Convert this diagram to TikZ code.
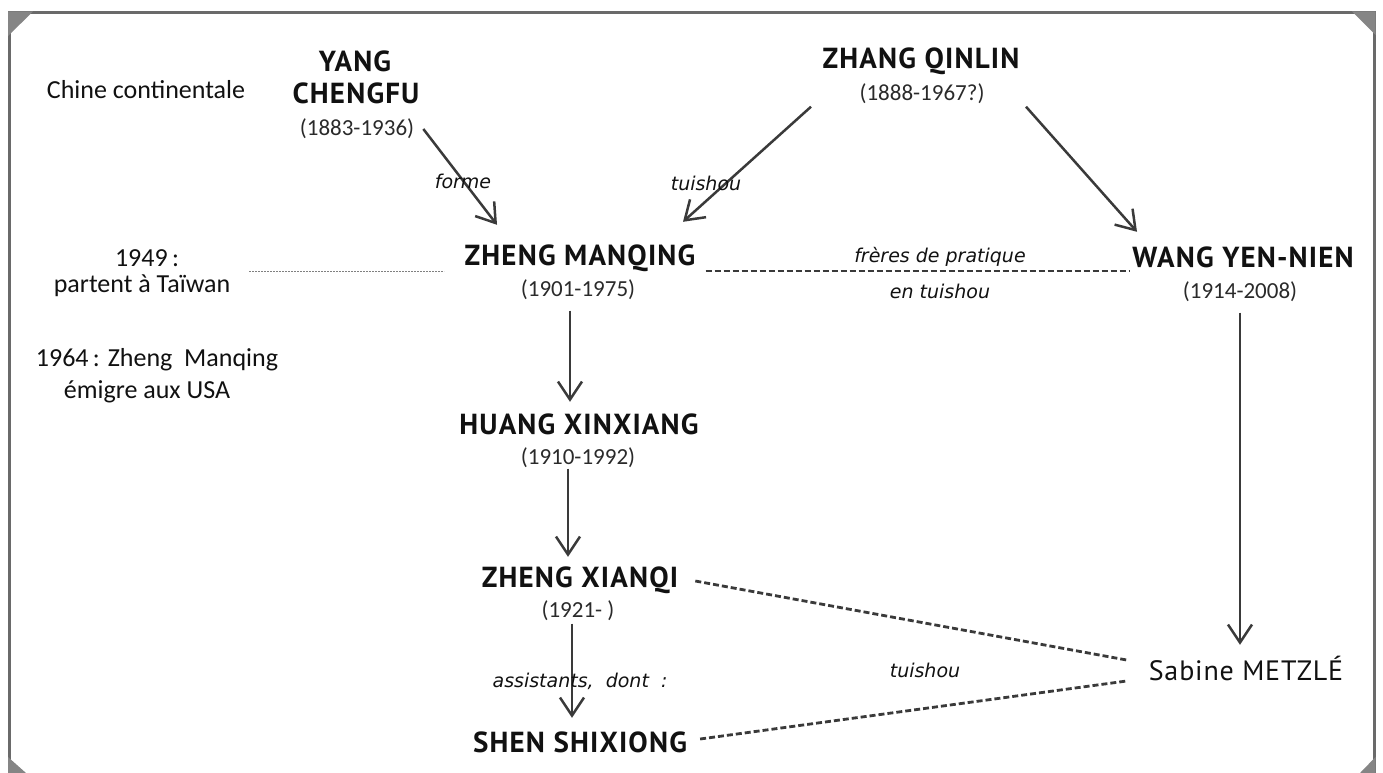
\documentclass[tikz,border=0pt]{standalone}
\usepackage{fontspec}
\setmainfont{Carlito}
\newfontfamily\namefont{PT Sans}[LetterSpace=4]
\newfontfamily\labfont{DejaVu Sans}
\newfontfamily\sabfont{PT Sans}[LetterSpace=3]
\usetikzlibrary{arrows.meta,calc}
\definecolor{txt}{HTML}{111111}
\definecolor{dtc}{HTML}{2A2A2A}
\definecolor{lc}{HTML}{3A3A3A}
\definecolor{framec}{HTML}{6A6A6A}
\definecolor{cornerc}{HTML}{858585}
\tikzset{
 nm/.style={font=\namefont\bfseries\fontsize{29}{31}\selectfont, text height=20pt, text depth=0pt, inner sep=0pt, text=txt},
 dt/.style={font=\fontsize{23}{25}\selectfont, text height=15pt, text depth=0pt, inner sep=0pt, text=dtc},
 gen/.style={font=\fontsize{26}{28}\selectfont, text height=16pt, text depth=0pt, inner sep=0pt, text=txt},
 lab/.style={font=\labfont\itshape\fontsize{19}{21}\selectfont, text height=14pt, text depth=0pt, inner sep=0pt, text=txt},
 sabs/.style={font=\sabfont\fontsize{28}{30}\selectfont, text height=20pt, text depth=0pt, inner sep=0pt, text=txt},
 arr/.style={draw=lc, line width=2.5pt, -{Straight Barb[length=18pt,width=24pt]}},
 dsh/.style={draw=lc, line width=2.8pt, dash pattern=on 6pt off 3pt},
 thin dots/.style={draw=gray, line width=0.9pt, dash pattern=on 2pt off 1pt},
}
\begin{document}
\begin{tikzpicture}[x=1pt,y=-1pt]
\useasboundingbox (0,0) rectangle (1383,773);
% frame
\draw[framec, line width=3pt] (9.5,775) -- (9.5,13) -- (1374,13) -- (1374,775);
\fill[cornerc] (8,11.5) -- (33,11.5) -- (8,36) -- cycle;
\fill[cornerc] (1352,11.5) -- (1375.5,11.5) -- (1375.5,35) -- cycle;
\fill[cornerc] (8,757) -- (8,773) -- (26,773) -- cycle;
\fill[cornerc] (1360,773) -- (1375.5,773) -- (1375.5,757) -- cycle;

% side notes
\node[gen] (chine) at (146,91) {Chine continentale};
\node[gen] (n49a) at (147,258) {1949\,:};
\node[gen] (n49b) at (142,284) {partent à Taïwan};
\node[gen] (n64a) at (157,358) {1964\,: Zheng~ Manqing};
\node[gen] (n64b) at (147,390) {émigre aux USA};

% persons
\node[nm] (yang1) at (355,62) {YANG};
\node[nm] (yang2) at (356,94) {CHENGFU};
\node[dt] (yangd) at (357,128) {(1883-1936)};
\node[nm] (zhang) at (921,59) {ZHANG QINLIN};
\node[dt] (zhangd) at (922,93) {(1888-1967?)};
\node[nm] (zm) at (580,255) {ZHENG MANQING};
\node[dt] (zmd) at (578,289) {(1901-1975)};
\node[nm] (wang) at (1243,257) {WANG YEN-NIEN};
\node[dt] (wangd) at (1240,291) {(1914-2008)};
\node[nm] (huang) at (579,424) {HUANG XINXIANG};
\node[dt] (huangd) at (578,457) {(1910-1992)};
\node[nm] (zx) at (580,577) {ZHENG XIANQI};
\node[dt] (zxd) at (578,610) {(1921- )};
\node[nm] (shen) at (580,742) {SHEN SHIXIONG};
\node[sabs] (sab) at (1246,670) {Sabine METZLÉ};

% arrows
\draw[arr] ($(yangd.east)+(9,1)$) -- ($(zm.north)+(-83,-20)$);
\draw[arr] ($(zhangd.south)+(-111,6)$) -- ($(zm.north)+(103,-23)$);
\draw[arr] ($(zhangd.south)+(104,6)$) -- ($(wang.north)+(-106,-15)$);
\draw[arr] ($(zmd.south)+(-8,14)$) -- ($(huang.north)+(-9,-12)$);
\draw[arr] ($(huangd.south)+(-10,4)$) -- ($(zx.north)+(-12,-10)$);
\draw[arr] ($(zxd.south)+(-6,6)$) -- ($(shen.north)+(-8,-14)$);
\draw[arr] ($(wangd.south)+(0,14)$) -- ($(sab.north)+(-6,-15)$);

% dashed links
\coordinate (tw1) at ($(zm.west)+(-215,16)$);
\coordinate (tw2) at ($(zm.west)+(-20,16)$);
\draw[thin dots] (tw1) -- (tw2);
\draw[dsh] ($(zm.east)+(10,16)$) -- ($(wang.west)+(-3,14)$);
\draw[dsh] ($(zx.east)+(17,4)$) -- ($(sab.west)+(-22,-10)$);
\draw[dsh] ($(shen.east)+(13,-3)$) -- ($(sab.west)+(-22,11)$);

% labels
\node[lab] (lforme) at (463,181) {forme};
\node[lab] (ltui1) at (706,183) {tuishou};
\node[lab] (lfreres) at (940,255) {frères de pratique};
\node[lab] (lentui) at (940,291) {en tuishou};
\node[lab] (ltui2) at (925,670) {tuishou};
\node[lab] (lassist) at (580,680) {assistants,\hspace{6pt} dont\hspace{6pt} :};
\end{tikzpicture}
\end{document}
